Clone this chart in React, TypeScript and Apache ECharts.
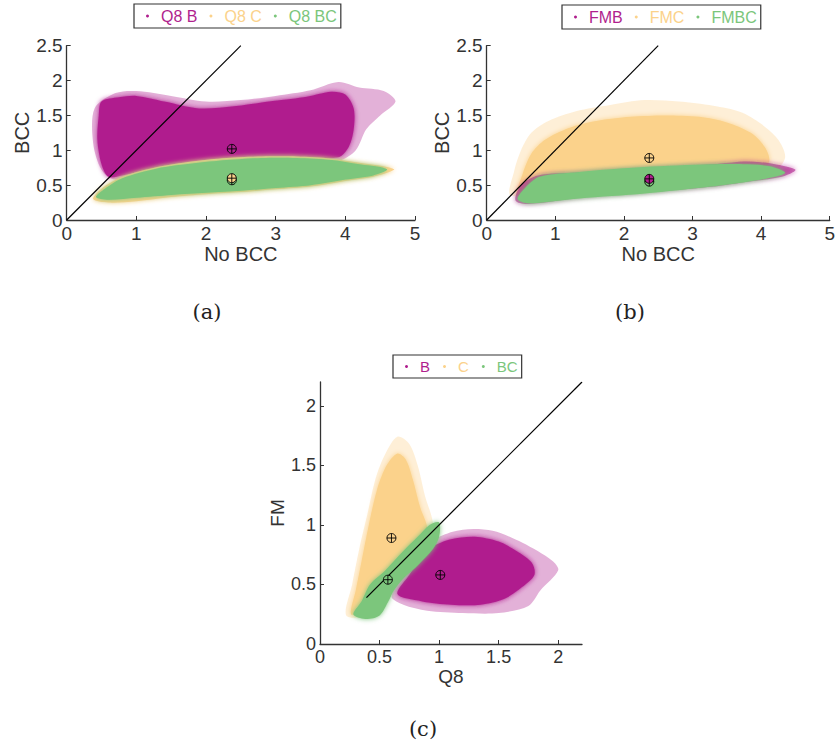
import React, { useEffect, useRef } from "react";
import * as echarts from "echarts";

const MAGENTA = "#B01F8E";
const ORANGE = "#FBD28B";
const GREEN = "#7BC67B";
const AXIS = "#333333";
const SANS = '"Liberation Sans", Arial, sans-serif';
const SERIF = '"DejaVu Serif", serif';

// panel (a): No BCC vs BCC, Q8 measures
const namesA = ["Q8 B", "Q8 C", "Q8 BC"];
const coreA_B = [[0.5, 1.7], [0.75, 1.76], [1.0, 1.78], [1.4, 1.7], [1.9, 1.6], [2.4, 1.63], [2.9, 1.7], [3.4, 1.76], [3.8, 1.84], [4.0, 1.8], [4.12, 1.6], [4.12, 1.3], [4.05, 1.05], [3.9, 0.9], [3.0, 0.85], [2.0, 0.8], [1.2, 0.72], [0.8, 0.64], [0.6, 0.62], [0.5, 0.8], [0.44, 1.15], [0.46, 1.5]];
const haloA_B = [[0.4, 1.6], [0.7, 1.82], [1.0, 1.85], [1.5, 1.78], [2.0, 1.7], [2.5, 1.72], [3.0, 1.78], [3.5, 1.86], [3.9, 1.98], [4.2, 1.9], [4.55, 1.85], [4.72, 1.7], [4.5, 1.5], [4.3, 1.3], [4.15, 1.0], [3.9, 0.85], [0.7, 0.58], [0.5, 0.72], [0.38, 1.1]];
const coreA_C = [[0.38, 0.3], [0.5, 0.45], [0.8, 0.62], [1.3, 0.76], [1.8, 0.84], [2.3, 0.89], [2.8, 0.91], [3.3, 0.91], [3.8, 0.88], [4.2, 0.82], [4.6, 0.76], [4.7, 0.72], [4.4, 0.62], [4.0, 0.56], [3.5, 0.48], [3.0, 0.44], [2.5, 0.4], [2.0, 0.37], [1.5, 0.33], [1.0, 0.27], [0.6, 0.25]];
const coreA_BC = [[0.42, 0.33], [0.55, 0.45], [0.8, 0.6], [1.3, 0.74], [1.8, 0.81], [2.3, 0.86], [2.8, 0.89], [3.3, 0.89], [3.8, 0.86], [4.2, 0.8], [4.5, 0.76], [4.6, 0.72], [4.4, 0.64], [4.0, 0.58], [3.5, 0.5], [3.0, 0.46], [2.5, 0.42], [2.0, 0.39], [1.5, 0.36], [1.0, 0.32], [0.6, 0.29]];
const meansA = [[2.37, 1.02], [2.37, 0.6], [2.37, 0.57]];
const diagA = [[0, 0], [2.5, 2.5]];

// panel (b): No BCC vs BCC, FM measures
const namesB = ["FMB", "FMC", "FMBC"];
const coreB_B = [[0.42, 0.28], [0.5, 0.5], [0.75, 0.64], [1.35, 0.68], [2.3, 0.74], [3.3, 0.8], [3.8, 0.84], [4.2, 0.8], [4.5, 0.72], [4.3, 0.62], [3.8, 0.55], [3.3, 0.48], [2.3, 0.39], [1.35, 0.32], [0.6, 0.23]];
const coreB_C = [[0.45, 0.35], [0.52, 0.65], [0.65, 0.95], [0.85, 1.15], [1.2, 1.32], [1.6, 1.42], [2.1, 1.48], [2.6, 1.5], [3.1, 1.48], [3.5, 1.4], [3.85, 1.25], [4.05, 1.05], [4.12, 0.85], [4.0, 0.72], [2.5, 0.65], [1.0, 0.5]];
const haloB_C = [[0.35, 0.35], [0.4, 0.7], [0.5, 1.0], [0.65, 1.25], [0.9, 1.42], [1.3, 1.56], [1.8, 1.65], [2.3, 1.72], [2.8, 1.7], [3.3, 1.64], [3.7, 1.55], [4.0, 1.38], [4.25, 1.15], [4.35, 0.9], [4.2, 0.72], [1.0, 0.45]];
const coreB_BC = [[0.45, 0.3], [0.55, 0.45], [0.77, 0.62], [1.35, 0.69], [2.3, 0.76], [3.27, 0.8], [3.8, 0.8], [4.13, 0.77], [4.35, 0.68], [4.2, 0.62], [3.8, 0.55], [3.27, 0.48], [2.3, 0.38], [1.35, 0.31], [0.6, 0.24]];
const meansB = [[2.37, 0.59], [2.37, 0.89], [2.37, 0.55]];
const diagB = [[0, 0], [2.5, 2.5]];

// panel (c): Q8 vs FM
const namesC = ["B", "C", "BC"];
const coreC_B = [[0.65, 0.42], [0.75, 0.58], [0.85, 0.72], [0.95, 0.82], [1.1, 0.88], [1.3, 0.9], [1.5, 0.86], [1.65, 0.78], [1.78, 0.68], [1.8, 0.58], [1.7, 0.48], [1.55, 0.38], [1.35, 0.33], [1.1, 0.33], [0.85, 0.36]];
const haloC_B = [[0.6, 0.4], [0.72, 0.6], [0.85, 0.78], [1.0, 0.9], [1.2, 0.96], [1.45, 0.95], [1.7, 0.85], [1.95, 0.7], [2.0, 0.62], [1.85, 0.45], [1.75, 0.32], [1.5, 0.26], [1.2, 0.26], [0.9, 0.28], [0.7, 0.33]];
const coreC_C = [[0.26, 0.25], [0.3, 0.45], [0.35, 0.7], [0.41, 1.0], [0.48, 1.3], [0.56, 1.5], [0.65, 1.6], [0.72, 1.55], [0.78, 1.38], [0.84, 1.15], [0.9, 0.98], [0.88, 0.88], [0.7, 0.68], [0.5, 0.45], [0.36, 0.28]];
const haloC_C = [[0.22, 0.24], [0.27, 0.5], [0.33, 0.8], [0.4, 1.1], [0.47, 1.4], [0.55, 1.6], [0.65, 1.74], [0.75, 1.68], [0.82, 1.5], [0.88, 1.25], [0.95, 1.0], [0.9, 0.85], [0.4, 0.25]];
const coreC_BC = [[0.28, 0.25], [0.35, 0.36], [0.42, 0.5], [0.55, 0.62], [0.7, 0.78], [0.82, 0.9], [0.92, 1.0], [1.0, 1.02], [1.0, 0.9], [0.95, 0.8], [0.82, 0.66], [0.7, 0.55], [0.62, 0.45], [0.57, 0.35], [0.5, 0.24], [0.38, 0.21]];
const meansC = [[1.01, 0.58], [0.6, 0.89], [0.57, 0.54]];
const diagC = [[0.39, 0.39], [2.2, 2.2]];

const COLORS = [MAGENTA, ORANGE, GREEN];

const cloud = (name: string, color: string, core: number[][], halo: number[][] | null, g: number, coreOpacity = 1) => ({
  type: "custom",
  name,
  xAxisIndex: g,
  yAxisIndex: g,
  data: core,
  encode: { x: 0, y: 1 },
  itemStyle: { color },
  silent: true,
  renderItem: (params: any, api: any) => {
    if (params.dataIndex !== 0) return null;
    const children: any[] = [];
    if (halo) {
      children.push({
        type: "polygon",
        shape: { points: halo.map((p) => api.coord(p)), smooth: 0.3 },
        style: { fill: color, opacity: 0.35 },
      });
    }
    children.push({
      type: "polygon",
      shape: { points: core.map((p) => api.coord(p)), smooth: 0.3 },
      style: { fill: color, opacity: coreOpacity, shadowBlur: 5, shadowColor: color },
    });
    return { type: "group", children };
  },
});

const mean = (pt: number[], color: string, g: number) => ({
  type: "custom",
  xAxisIndex: g,
  yAxisIndex: g,
  data: [pt],
  encode: { x: 0, y: 1 },
  silent: true,
  z: 5,
  renderItem: (_params: any, api: any) => {
    const [cx, cy] = api.coord([api.value(0), api.value(1)]);
    const r = 4.5;
    const line = { stroke: "#000", lineWidth: 0.9 };
    return {
      type: "group",
      children: [
        { type: "circle", shape: { cx, cy, r }, style: { fill: color, stroke: "#000", lineWidth: 0.9 } },
        { type: "line", shape: { x1: cx - r, y1: cy, x2: cx + r, y2: cy }, style: line },
        { type: "line", shape: { x1: cx, y1: cy - r, x2: cx, y2: cy + r }, style: line },
      ],
    };
  },
});

const diagonal = (data: number[][], g: number) => ({
  type: "line",
  xAxisIndex: g,
  yAxisIndex: g,
  data,
  showSymbol: false,
  symbol: "none",
  silent: true,
  z: 4,
  lineStyle: { color: "#000", width: 1.2 },
});

const axis = (g: number, name: string, max: number, interval: number, gap: number, tickSize: number, nameSize: number) => ({
  type: "value",
  gridIndex: g,
  min: 0,
  max,
  interval,
  name,
  nameLocation: "middle",
  nameGap: gap,
  nameTextStyle: { color: AXIS, fontSize: nameSize, fontFamily: SANS },
  axisLine: { show: true, onZero: false, lineStyle: { color: AXIS, width: 1.3 } },
  axisTick: { show: true, inside: true, length: 4, lineStyle: { color: AXIS } },
  axisLabel: { color: AXIS, fontSize: tickSize, fontFamily: SANS, margin: 4, showMaxLabel: max % interval === 0 },
  splitLine: { show: false },
});

const legend = (names: string[], left: number, top: number, fontSize: number, gap: number) => ({
  left,
  top,
  orient: "horizontal",
  data: names.map((n, i) => ({
    name: n,
    icon: "circle",
    itemStyle: { color: COLORS[i] },
    textStyle: { color: COLORS[i] },
  })),
  itemWidth: 3,
  itemHeight: 3,
  itemGap: gap,
  padding: [4, 4, 4, 12],
  borderColor: AXIS,
  borderWidth: 1.2,
  backgroundColor: "#fff",
  selectedMode: false,
  textStyle: { fontSize, fontFamily: SANS, padding: [0, 0, 0, 7] },
});

const caption = (text: string, x: number, y: number) => ({
  type: "text",
  x,
  y,
  style: { text, fontSize: 21, fontFamily: SERIF, fill: "#222", align: "center", verticalAlign: "middle" },
});

const App: React.FC = () => {
  const chartRef = useRef<HTMLDivElement>(null);

  useEffect(() => {
    if (!chartRef.current) return;
    document.body.style.margin = "0";
    const chart = echarts.init(chartRef.current, null, { renderer: "svg" });

    const option: any = {
      animation: false,
      backgroundColor: "#fff",
      grid: [
        { left: 66.7, top: 45.7, width: 348.3, height: 174.3 },
        { left: 486.7, top: 45.7, width: 346.3, height: 174.3 },
        { left: 320, top: 382, width: 262, height: 262 },
      ],
      xAxis: [
        axis(0, "No BCC", 5, 1, 23, 19, 20),
        axis(1, "No BCC", 5, 1, 23, 19, 20),
        axis(2, "Q8", 2.2, 0.5, 23, 18, 19),
      ],
      yAxis: [
        axis(0, "BCC", 2.5, 0.5, 33, 19, 20),
        axis(1, "BCC", 2.5, 0.5, 33, 19, 20),
        axis(2, "FM", 2.2, 0.5, 33, 18, 19),
      ],
      legend: [
        legend(namesA, 134, 4, 16, 12),
        legend(namesB, 562, 5, 16, 12),
        legend(namesC, 393, 355, 15, 13),
      ],
      graphic: [caption("(a)", 207, 312), caption("(b)", 630, 312), caption("(c)", 423, 729)],
      series: [
        // (a)
        cloud(namesA[0], MAGENTA, coreA_B, haloA_B, 0),
        cloud(namesA[1], ORANGE, coreA_C, null, 0),
        cloud(namesA[2], GREEN, coreA_BC, null, 0),
        diagonal(diagA, 0),
        mean(meansA[2], GREEN, 0),
        mean(meansA[1], ORANGE, 0),
        mean(meansA[0], MAGENTA, 0),
        // (b)
        cloud(namesB[1], ORANGE, coreB_C, haloB_C, 1),
        cloud(namesB[0], MAGENTA, coreB_B, null, 1, 0.6),
        cloud(namesB[2], GREEN, coreB_BC, null, 1),
        diagonal(diagB, 1),
        mean(meansB[2], GREEN, 1),
        mean(meansB[1], ORANGE, 1),
        mean(meansB[0], MAGENTA, 1),
        // (c)
        cloud(namesC[0], MAGENTA, coreC_B, haloC_B, 2),
        cloud(namesC[1], ORANGE, coreC_C, haloC_C, 2),
        cloud(namesC[2], GREEN, coreC_BC, null, 2),
        diagonal(diagC, 2),
        mean(meansC[2], GREEN, 2),
        mean(meansC[1], ORANGE, 2),
        mean(meansC[0], MAGENTA, 2),
      ],
    };

    chart.setOption(option);
    return () => chart.dispose();
  }, []);

  return <div ref={chartRef} style={{ width: "838px", height: "744px" }} />;
};

export default App;
